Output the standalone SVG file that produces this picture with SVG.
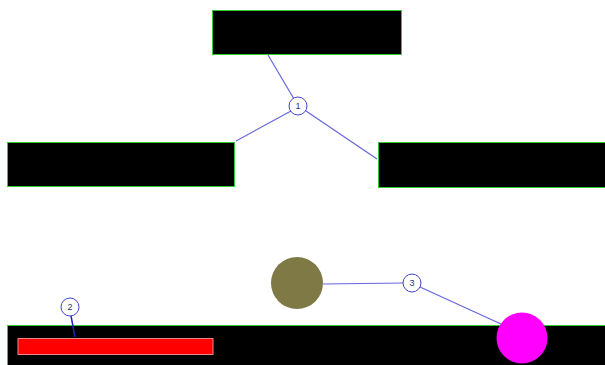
<svg xmlns="http://www.w3.org/2000/svg" width="605" height="365" viewBox="0 0 605 365">
<style>
.box{fill:#000;stroke:#3c3;stroke-width:1}
.lbl{fill:#fff;stroke:#44c;stroke-width:1}
.lt{font-family:"Liberation Sans",Arial,sans-serif;font-size:9px;fill:#336;text-anchor:middle}
.c{stroke:#66d;stroke-width:1.2;fill:none}
</style>
<rect width="605" height="365" fill="#fff"/>
<g id="n-top"><rect class="box" x="212.5" y="10.5" width="189" height="44"/></g>
<g id="n-left"><rect class="box" x="7.5" y="142.5" width="227" height="44"/></g>
<g id="n-right"><rect class="box" x="378.5" y="142.5" width="230" height="45"/></g>
<g id="n-bottom"><rect class="box" x="7.5" y="325.5" width="600" height="45"/></g>
<g id="n-red"><rect x="18" y="338.5" width="195" height="16" fill="#f00" stroke="#e88" stroke-width="1"/></g>
<g id="n-olive"><circle cx="297" cy="283" r="26" fill="#7f7a45"/></g>
<g id="n-magenta"><circle cx="522" cy="338" r="25.5" fill="#f0f"/></g>
<g id="connectors">
<path class="c" d="M268 55 L294 99"/>
<path class="c" d="M291 111 L236 141"/>
<path class="c" d="M306 111 L377 159"/>
<path d="M71 316 L75 337" stroke="#22b" stroke-width="1.5" fill="none"/>
<path class="c" d="M323 284 L403 283"/>
<path class="c" d="M420 287 L501 324"/>
</g>
<g id="label-1"><circle class="lbl" cx="298" cy="106" r="9"/><text class="lt" x="298" y="109">1</text></g>
<g id="label-2"><circle class="lbl" cx="70" cy="307" r="9"/><text class="lt" x="70" y="310">2</text></g>
<g id="label-3"><circle class="lbl" cx="412" cy="283" r="9"/><text class="lt" x="412" y="286">3</text></g>
</svg>
